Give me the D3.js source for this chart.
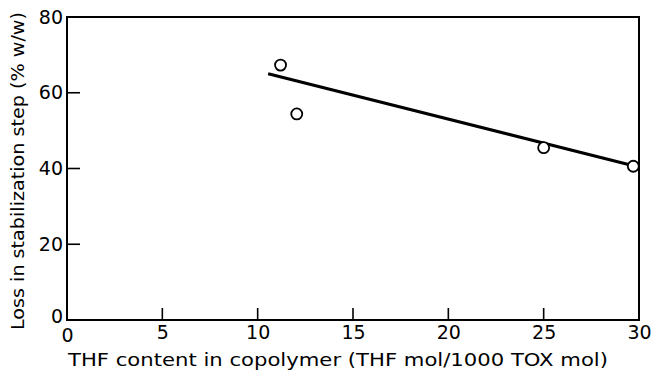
<!DOCTYPE html>
<html>
<head>
<meta charset="utf-8">
<script src="https://cdn.jsdelivr.net/npm/d3@7/dist/d3.min.js"></script>
<style>
  html, body { margin: 0; padding: 0; background: #fff; }
  svg { display: block; }
  text { font-family: "DejaVu Sans", sans-serif; fill: #000; }
</style>
</head>
<body>
<svg id="chart" width="655" height="375"></svg>
<script>
// THF content (mol / 1000 mol TOX) and weight loss in the stabilization step (% w/w)
const thfContent = [11.2, 12.05, 25.0, 29.7];
const lossPercent = [67.3, 54.4, 45.5, 40.6];

// End points of the fitted straight line
const fitX = [10.55, 29.5];
const fitY = [65.0, 41.0];

const xTicks = [0, 5, 10, 15, 20, 25, 30];
const yTicks = [0, 20, 40, 60, 80];

const svg = d3.select("#chart");
const plotLeft = 67, plotRight = 639, plotTop = 17, plotBottom = 320;

const x = d3.scaleLinear().domain([0, 30]).range([plotLeft, plotRight]);
const y = d3.scaleLinear().domain([0, 80]).range([plotBottom, plotTop]);

// Frame
svg.append("rect")
  .attr("x", plotLeft).attr("y", plotTop)
  .attr("width", plotRight - plotLeft).attr("height", plotBottom - plotTop)
  .attr("fill", "none").attr("stroke", "#000").attr("stroke-width", 2);

// Bottom axis: inward ticks, labels below
const xAxis = d3.axisBottom(x).tickValues(xTicks).tickSizeInner(0).tickSizeOuter(0).tickPadding(6);
const gx = svg.append("g").attr("transform", `translate(0,${plotBottom})`).call(xAxis);
gx.select(".domain").remove();
gx.selectAll("text").attr("font-size", 19).attr("font-family", "DejaVu Sans, sans-serif");
svg.append("g").selectAll("line").data(xTicks.filter(d => d > 0 && d < 30)).join("line")
  .attr("x1", d => x(d)).attr("x2", d => x(d))
  .attr("y1", plotBottom).attr("y2", plotBottom - 12)
  .attr("stroke", "#000").attr("stroke-width", 1.6);

// Left axis: inward ticks, labels to the left
const yAxis = d3.axisLeft(y).tickValues(yTicks).tickSizeInner(0).tickSizeOuter(0).tickPadding(4);
const gy = svg.append("g").attr("transform", `translate(${plotLeft},0)`).call(yAxis);
gy.select(".domain").remove();
gy.selectAll("text").attr("font-size", 19).attr("font-family", "DejaVu Sans, sans-serif");
gy.selectAll(".tick").filter(d => d === 0).select("text").attr("dy", "0.15em");
gx.selectAll(".tick").filter(d => d === 0).select("text").attr("dy", "0.85em");
svg.append("g").selectAll("line").data(yTicks.filter(d => d > 0 && d < 80)).join("line")
  .attr("x1", plotLeft).attr("x2", plotLeft + 13)
  .attr("y1", d => y(d)).attr("y2", d => y(d))
  .attr("stroke", "#000").attr("stroke-width", 1.6);

// Fitted line
svg.append("line")
  .attr("x1", x(fitX[0])).attr("y1", y(fitY[0]))
  .attr("x2", x(fitX[1])).attr("y2", y(fitY[1]))
  .attr("stroke", "#000").attr("stroke-width", 3);

// Data points (open circles)
svg.append("g").selectAll("circle").data(thfContent.map((d, i) => [d, lossPercent[i]])).join("circle")
  .attr("cx", d => x(d[0])).attr("cy", d => y(d[1]))
  .attr("r", 5.5).attr("fill", "#fff").attr("stroke", "#000").attr("stroke-width", 1.8);

// Axis titles
svg.append("text")
  .attr("x", 338).attr("y", 366)
  .attr("text-anchor", "middle").attr("font-size", 18)
  .attr("textLength", 540).attr("lengthAdjust", "spacingAndGlyphs")
  .text("THF content in copolymer (THF mol/1000 TOX mol)");

svg.append("text")
  .attr("transform", "translate(24,171) rotate(-90)")
  .attr("text-anchor", "middle").attr("font-size", 18)
  .attr("textLength", 318).attr("lengthAdjust", "spacingAndGlyphs")
  .text("Loss in stabilization step (% w/w)");
</script>
</body>
</html>
